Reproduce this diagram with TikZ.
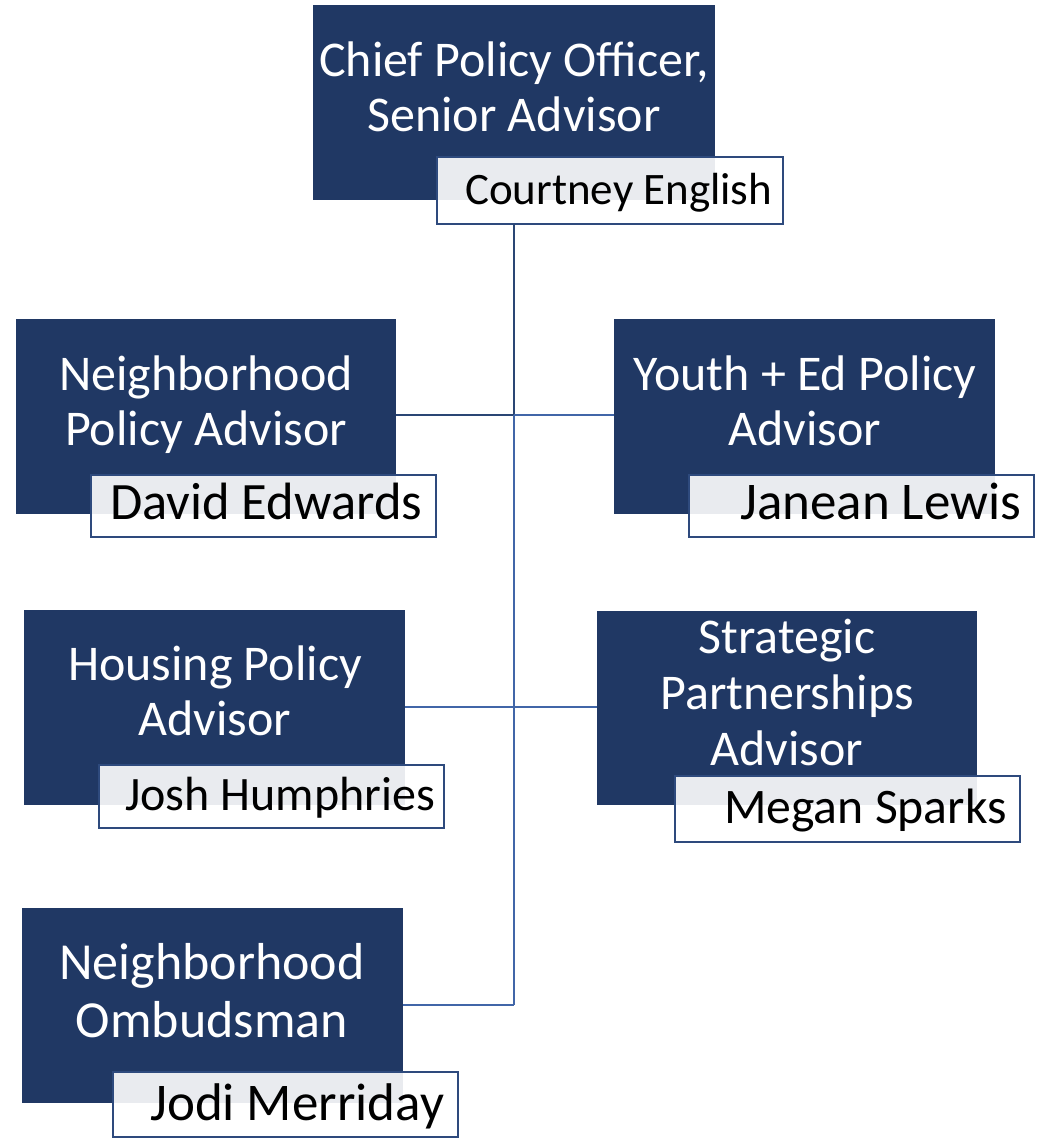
\documentclass[tikz,border=0pt]{standalone}
\usepackage{fontspec}
\setmainfont{Carlito}
\definecolor{navy}{HTML}{203864}
\definecolor{navyline}{HTML}{2A4674}
\definecolor{linkblue}{HTML}{4166A8}
\definecolor{nameedge}{HTML}{2E4A7D}
\tikzset{
  rolebox/.style={rectangle, fill=navy, draw=none, inner sep=0pt, outer sep=0pt, anchor=north west},
  namebox/.style={rectangle, fill=white, fill opacity=0.9, draw=nameedge, draw opacity=1, line width=2pt, inner sep=0pt, outer sep=0pt, anchor=north west},
  roletext/.style={text=white, align=center, inner sep=0pt, anchor=base, font=\fontsize{50}{55}\selectfont},
  nametext/.style={text=black, inner sep=0pt, anchor=base west},
  link/.style={draw=linkblue, line width=2pt},
  darklink/.style={draw=navyline, line width=2pt}
}
\begin{document}
\begin{tikzpicture}[x=1pt,y=-1pt]
\useasboundingbox (0,0) rectangle (1038,1138);
% role boxes
\node[rolebox, minimum width=402pt, minimum height=195pt] (chief) at (313,5) {};
\node[rolebox, minimum width=380pt, minimum height=195pt] (npa) at (16,319) {};
\node[rolebox, minimum width=381pt, minimum height=195pt] (youth) at (614,319) {};
\node[rolebox, minimum width=381pt, minimum height=195pt] (housing) at (24,610) {};
\node[rolebox, minimum width=380pt, minimum height=194pt] (strat) at (597,611) {};
\node[rolebox, minimum width=381pt, minimum height=195pt] (ombud) at (22,908) {};
% junctions
\coordinate (j1) at (514,415);
\coordinate (j2) at (514,707);
\coordinate (j3) at (514,1005);
% name boxes
\node[namebox, minimum width=346pt, minimum height=67pt] (nchief) at (437,157) {};
\node[namebox, minimum width=345pt, minimum height=62pt] (nnpa) at (91,475) {};
\node[namebox, minimum width=345pt, minimum height=62pt] (nyouth) at (689,475) {};
\node[namebox, minimum width=345pt, minimum height=63pt] (nhousing) at (99,765) {};
\node[namebox, minimum width=345pt, minimum height=66pt] (nstrat) at (675,776) {};
\node[namebox, minimum width=345pt, minimum height=65pt] (nombud) at (113,1072) {};
% connectors
\draw[darklink] (nchief.south -| j1) -- (j1);
\draw[darklink] (npa.east |- j1) -- (j1);
\draw[link] (j1) -- (youth.west |- j1);
\draw[link] (j1) -- (j2) -- (j3);
\draw[link] (housing.east |- j2) -- (j2) -- (strat.west |- j2);
\draw[link] (ombud.east |- j3) -- (j3);
% role texts (base anchor = baseline of last line)
\node[roletext] (tchief) at (514,131) {Chief Policy Officer,\\Senior Advisor};
\node[roletext] (tnpa) at (206,445) {Neighborhood\\Policy Advisor};
\node[roletext] (tyouth) at (805,445) {Youth + Ed Policy\\Advisor};
\node[roletext] (thousing) at (215,735) {Housing Policy\\Advisor};
\node[roletext, font=\fontsize{50}{56}\selectfont] (tstrat) at (787,765) {Strategic\\Partnerships\\Advisor};
\node[roletext, font=\fontsize{52}{58}\selectfont] (tombud) at (212,1037) {Neighborhood\\Ombudsman};
% name texts
\node[nametext, font=\fontsize{45}{54}\selectfont] (lchief) at (465,204) {Courtney English};
\node[nametext, font=\fontsize{52.5}{60}\selectfont] (lnpa) at (110,519) {David Edwards};
\node[nametext, font=\fontsize{53}{60}\selectfont] (lyouth) at (740,519) {Janean Lewis};
\node[nametext, font=\fontsize{48}{56}\selectfont] (lhousing) at (125,810) {Josh Humphries};
\node[nametext, font=\fontsize{49.7}{58}\selectfont] (lstrat) at (724,823) {Megan Sparks};
\node[nametext, font=\fontsize{53}{60}\selectfont] (lombud) at (150,1120) {Jodi Merriday};
\end{tikzpicture}
\end{document}
